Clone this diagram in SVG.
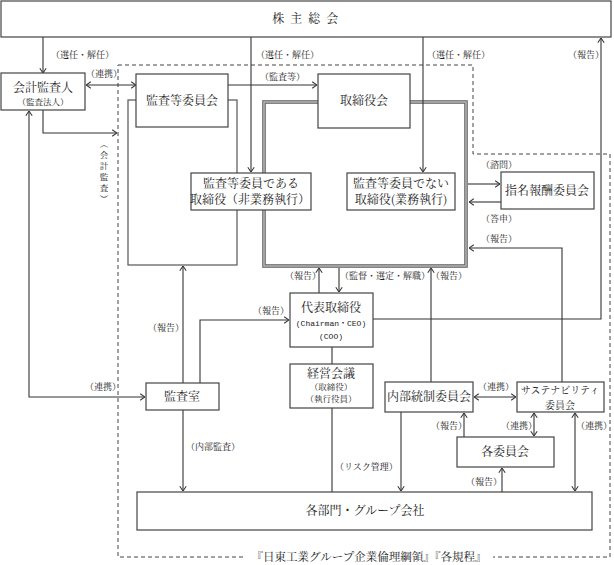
<svg xmlns="http://www.w3.org/2000/svg" width="614" height="565" viewBox="0 0 614 565">
<defs>
<marker id="ah" viewBox="0 0 10 10" refX="10" refY="5" markerWidth="8" markerHeight="8" markerUnits="userSpaceOnUse" orient="auto-start-reverse">
<path d="M4,1 L10,5 L4,9" fill="none" stroke="#333" stroke-width="1.3"/>
</marker>
<style>
text{font-family:"Noto Serif CJK JP","Noto Sans CJK JP","Liberation Serif",serif;fill:#222;text-anchor:middle}
.box{fill:#fff;stroke:#444;stroke-width:1.2}
.t{font-size:12px}
.s{font-size:8.5px}
.lb{font-size:9px;text-anchor:start}
.ln{fill:none;stroke:#333;stroke-width:1.1}
.a{marker-end:url(#ah)}
.d{marker-start:url(#ah);marker-end:url(#ah)}
.mono{font-family:"Liberation Mono","Noto Sans CJK JP",monospace;font-size:8px}
</style>
</defs>
<rect width="614" height="565" fill="#fff"/>

<g id="frames">
<path d="M118,65 H473 V154 H610 V557 H118 Z" fill="none" stroke="#444" stroke-width="1" stroke-dasharray="4,3"/>
<rect x="128" y="100" width="109" height="165" fill="none" stroke="#555" stroke-width="1.2"/>
<rect x="264" y="102" width="202" height="164" fill="none" stroke="#666" stroke-width="3.6"/>
<rect x="264" y="102" width="202" height="164" fill="none" stroke="#bbb" stroke-width="1.4"/>
<rect x="245" y="550" width="248" height="14" fill="#fff"/>
<text x="369" y="561" style="font-size:11.5px">『日東工業グループ企業倫理綱領』『各規程』</text>
</g>

<g id="connectors">
<path class="ln a" d="M43,37 V73"/>
<path class="ln a" d="M251,37 V172"/>
<path class="ln a" d="M423,37 V172"/>
<path class="ln a" d="M373,319 H601 V38"/>
<path class="ln d" d="M86,85 H136"/>
<path class="ln a" d="M228,85 H317"/>
<path class="ln a" d="M43,110 V133 H117"/>
<path class="ln d" d="M29,111 V397 H145"/>
<path class="ln a" d="M468,184 H500"/>
<path class="ln a" d="M501,202 H469"/>
<path class="ln a" d="M562,382 V248 H469"/>
<path class="ln a" d="M319,293 V268"/>
<path class="ln a" d="M339,268 V292"/>
<path class="ln a" d="M431,382 V268"/>
<path class="ln a" d="M183,383 V266"/>
<path class="ln a" d="M200,383 V320 H289"/>
<path class="ln a" d="M183,410 V491"/>
<path class="ln" d="M332,347 V364"/>
<path class="ln" d="M332,408 V492"/>
<path class="ln a" d="M401,412 V491"/>
<path class="ln d" d="M474,397 H516"/>
<path class="ln a" d="M464,437 V413"/>
<path class="ln d" d="M534,413 V436"/>
<path class="ln d" d="M575,413 V491"/>
<path class="ln a" d="M502,492 V468"/>

<text class="lb" x="51" y="58">（選任・解任）</text>
<text class="lb" x="256" y="58">（選任・解任）</text>
<text class="lb" x="427" y="58">（選任・解任）</text>
<text class="lb" x="568" y="58">（報告）</text>
<text class="lb" x="86" y="77">（連携）</text>
<text class="lb" x="260" y="80">（監査等）</text>
<text style="font-size:8.5px"><tspan x="104" y="147">︵</tspan><tspan x="104" y="158">会</tspan><tspan x="104" y="169">計</tspan><tspan x="104" y="180">監</tspan><tspan x="104" y="191">査</tspan><tspan x="104" y="202">︶</tspan></text>
<text class="lb" x="481" y="168">（諮問）</text>
<text class="lb" x="481" y="222">（答申）</text>
<text class="lb" x="481" y="242">（報告）</text>
<text class="lb" x="285" y="279">（報告）</text>
<text class="lb" x="340" y="279">（監督・選定・解職）</text>
<text class="lb" x="431" y="279">（報告）</text>
<text class="lb" x="148" y="331">（報告）</text>
<text class="lb" x="253" y="314">（報告）</text>
<text class="lb" x="85" y="390">（連携）</text>
<text class="lb" x="186" y="450">（内部監査）</text>
<text class="lb" x="335" y="470">（リスク管理）</text>
<text class="lb" x="466" y="485">（報告）</text>
<text class="lb" x="478" y="390">（連携）</text>
<text class="lb" x="431" y="429">（報告）</text>
<text class="lb" x="501" y="429">（連携）</text>
<text class="lb" x="576" y="429">（連携）</text>
</g>

<g id="kabunushi">
<rect class="box" x="1" y="1" width="610" height="36"/>
<text class="t" x="306" y="23" style="letter-spacing:1.5px">株 主 総 会</text>
</g>
<g id="kaikei">
<rect class="box" x="1" y="73" width="84" height="37"/>
<text class="t" x="43" y="92">会計監査人</text>
<text class="s" x="43" y="105">（監査法人）</text>
</g>
<g id="kansa-iinkai">
<rect class="box" x="136" y="74" width="92" height="53"/>
<text class="t" x="182" y="105">監査等委員会</text>
</g>
<g id="torishimariyakukai">
<rect class="box" x="318" y="74" width="92" height="54"/>
<text class="t" x="364" y="105">取締役会</text>
</g>
<g id="kansa-torishimari">
<rect class="box" x="191" y="173" width="120" height="37"/>
<text class="t" x="251" y="188">監査等委員である</text>
<text class="t" x="250" y="204">取締役（非業務執行）</text>
</g>
<g id="gyomu-torishimari">
<rect class="box" x="347" y="173" width="108" height="37"/>
<text class="t" x="401" y="188">監査等委員でない</text>
<text class="t" x="401" y="204">取締役(業務執行)</text>
</g>
<g id="shimei">
<rect class="box" x="501" y="172" width="93" height="37"/>
<text class="t" x="547" y="195">指名報酬委員会</text>
</g>
<g id="daihyo">
<rect class="box" x="290" y="293" width="83" height="54"/>
<text class="t" x="331" y="312">代表取締役</text>
<text class="mono" x="331" y="326">(Chairman・CEO)</text>
<text class="mono" x="331" y="339">(COO)</text>
</g>
<g id="keiei">
<rect class="box" x="290" y="364" width="83" height="44"/>
<text class="t" x="331" y="378">経営会議</text>
<text class="s" x="331" y="390">（取締役）</text>
<text class="s" x="331" y="402">（執行役員）</text>
</g>
<g id="kansashitsu">
<rect class="box" x="146" y="383" width="73" height="27"/>
<text class="t" x="182" y="401">監査室</text>
</g>
<g id="naibu">
<rect class="box" x="385" y="382" width="88" height="30"/>
<text class="t" x="429" y="401">内部統制委員会</text>
</g>
<g id="sustainability">
<rect class="box" x="517" y="382" width="87" height="30"/>
<text x="560" y="394" style="font-size:10px">サステナビリティ</text>
<text x="560" y="408.5" style="font-size:10px">委員会</text>
</g>
<g id="kakuiinkai">
<rect class="box" x="457" y="437" width="97" height="30"/>
<text class="t" x="505" y="456">各委員会</text>
</g>
<g id="kakubumon">
<rect class="box" x="137" y="492" width="455" height="38"/>
<text class="t" x="365" y="515">各部門・グループ会社</text>
</g>
</svg>
